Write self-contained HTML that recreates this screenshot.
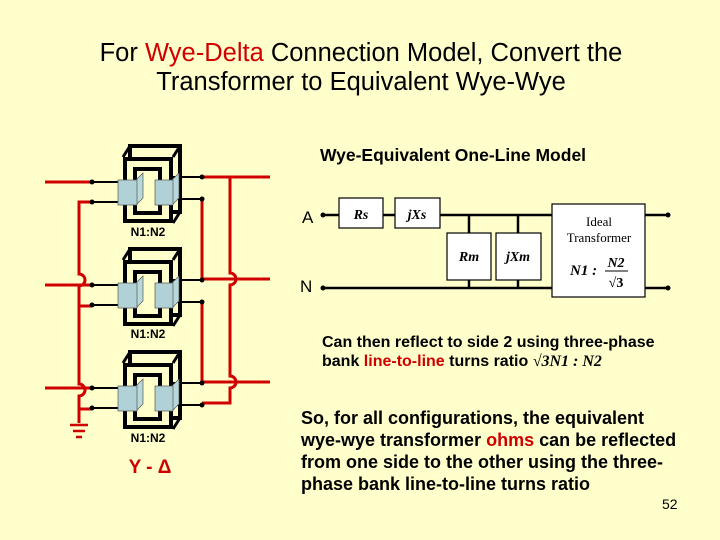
<!DOCTYPE html>
<html><head><meta charset="utf-8"><style>
html,body{margin:0;padding:0;background:#FFFFCC;}
svg{display:block;}
text{font-family:"Liberation Sans",sans-serif;}
</style></head><body>
<svg width="720" height="540" viewBox="0 0 720 540" xmlns="http://www.w3.org/2000/svg">
<rect width="720" height="540" fill="#FFFFCC"/>
<text x="361" y="61" font-size="25.5" text-anchor="middle">For <tspan fill="#D00000">Wye-Delta</tspan> Connection Model, Convert the</text>
<text x="361" y="90" font-size="25.5" text-anchor="middle">Transformer to Equivalent Wye-Wye</text>
<text x="453" y="161" font-size="17.5" font-weight="bold" text-anchor="middle">Wye-Equivalent One-Line Model</text>

<defs>
<g id="t">
  <rect x="130" y="0" width="50" height="66" fill="none" stroke="#000" stroke-width="4"/>
  <line x1="123" y1="11" x2="130" y2="0" stroke="#000" stroke-width="3"/>
  <line x1="173" y1="11" x2="180" y2="0" stroke="#000" stroke-width="3"/>
  <line x1="173" y1="77" x2="180" y2="66" stroke="#000" stroke-width="3"/>
  <rect x="125" y="13" width="46" height="62" fill="#FFFFCC" stroke="#000" stroke-width="4"/>
  <rect x="135" y="23" width="25" height="44" fill="none" stroke="#000" stroke-width="4"/>
  <line x1="92" y1="36" x2="120" y2="36" stroke="#000" stroke-width="2"/>
  <line x1="92" y1="56" x2="120" y2="56" stroke="#000" stroke-width="2"/>
  <line x1="172" y1="31" x2="202" y2="31" stroke="#000" stroke-width="2"/>
  <line x1="172" y1="53" x2="202" y2="53" stroke="#000" stroke-width="2"/>
  <polygon points="136,34 143,27 143,52 136,59" fill="#B8D8DA" stroke="#555" stroke-width="0.7"/>
  <rect x="118" y="34" width="19" height="25" fill="#B0D2D6" stroke="#555" stroke-width="0.7"/>
  <polygon points="172,34 179,27 179,52 172,59" fill="#B8D8DA" stroke="#555" stroke-width="0.7"/>
  <rect x="155" y="34" width="18" height="25" fill="#B0D2D6" stroke="#555" stroke-width="0.7"/>
  <circle cx="92" cy="36" r="2.5"/><circle cx="92" cy="56" r="2.5"/>
  <circle cx="202" cy="31" r="2.5"/><circle cx="202" cy="53" r="2.5"/>
</g>
</defs>
<g fill="none" stroke="#D00000" stroke-width="3">
  <path d="M45 182 H92"/>
  <path d="M92 202 H79 V274 a6 6 0 0 1 0 12 V384 a6 6 0 0 1 0 12 V423"/>
  <path d="M45 285 H92"/>
  <path d="M79 306 H92"/>
  <path d="M45 388 H92"/>
  <path d="M79 409 H92"/>
  <path d="M202 177 H270"/>
  <path d="M202 279 H270"/>
  <path d="M202 382 H270"/>
  <path d="M202 199 V279"/>
  <path d="M202 302 V382"/>
  <path d="M230 177 V273 a6 6 0 0 1 0 12 V376 a6 6 0 0 1 0 12 V403 H202"/>
</g>
<g stroke="#D00000" stroke-width="2.5">
  <line x1="70" y1="425" x2="88" y2="425"/>
  <line x1="73" y1="431" x2="85" y2="431"/>
  <line x1="76" y1="437" x2="82" y2="437"/>
</g>
<use href="#t" transform="translate(0,146)"/>
<use href="#t" transform="translate(0,249)"/>
<use href="#t" transform="translate(0,352)"/>
<text x="148" y="236" font-size="12" font-weight="bold" text-anchor="middle">N1:N2</text>
<text x="148" y="338" font-size="12" font-weight="bold" text-anchor="middle">N1:N2</text>
<text x="148" y="442" font-size="12" font-weight="bold" text-anchor="middle">N1:N2</text>
<text x="150" y="473" font-size="19" font-weight="bold" fill="#D00000" text-anchor="middle">Y - Δ</text>

<g stroke="#000" stroke-width="2.5" fill="none">
  <path d="M323 215 H552"/>
  <path d="M323 288 H552"/>
  <path d="M469 215 V288"/>
  <path d="M518 215 V288"/>
  <path d="M645 215 H668"/>
  <path d="M645 288 H668"/>
</g>
<g stroke="#000" stroke-width="1.2" fill="#FFFFFF">
  <rect x="339" y="198" width="44" height="30"/>
  <rect x="395" y="198" width="45" height="30"/>
  <rect x="447" y="233" width="44" height="47"/>
  <rect x="496" y="233" width="45" height="47"/>
  <rect x="552" y="204" width="93" height="93"/>
</g>
<circle cx="323" cy="215" r="2.5"/><circle cx="323" cy="288" r="2.5"/>
<circle cx="668" cy="215" r="2.5"/><circle cx="668" cy="288" r="2.5"/>
<text x="302" y="223" font-size="17">A</text>
<text x="300" y="292" font-size="17">N</text>
<g font-style="italic" font-weight="bold" font-size="14" text-anchor="middle">
  <text x="361" y="219" style="font-family:'Liberation Serif',serif">Rs</text>
  <text x="417" y="219" style="font-family:'Liberation Serif',serif">jXs</text>
  <text x="469" y="261" style="font-family:'Liberation Serif',serif">Rm</text>
  <text x="518" y="261" style="font-family:'Liberation Serif',serif">jXm</text>
</g>
<text x="599" y="226" font-size="13" text-anchor="middle" style="font-family:'Liberation Serif',serif">Ideal</text>
<text x="599" y="242" font-size="13" text-anchor="middle" style="font-family:'Liberation Serif',serif">Transformer</text>
<text x="570" y="275" font-size="15" font-weight="bold" font-style="italic" style="font-family:'Liberation Serif',serif">N1 :</text>
<text x="616" y="267" font-size="14" font-weight="bold" font-style="italic" text-anchor="middle" style="font-family:'Liberation Serif',serif">N2</text>
<line x1="605" y1="271" x2="628" y2="271" stroke="#000" stroke-width="1"/>
<text x="616" y="287" font-size="14" font-weight="bold" text-anchor="middle" style="font-family:'Liberation Serif',serif">√3</text>

<g font-size="16" font-weight="bold">
<text x="322" y="347">Can then reflect to side 2 using three-phase</text>
<text x="322" y="366">bank <tspan fill="#D00000">line-to-line</tspan> turns ratio <tspan style="font-family:'Liberation Serif',serif" font-style="italic">√3N1 : N2</tspan></text>
</g>
<g font-size="18" font-weight="bold">
<text x="301" y="424">So, for all configurations, the equivalent</text>
<text x="301" y="446">wye-wye transformer <tspan fill="#D00000">ohms</tspan> can be reflected</text>
<text x="301" y="468">from one side to the other using the three-</text>
<text x="301" y="490">phase bank line-to-line turns ratio</text>
</g>
<text x="662" y="509" font-size="14">52</text>
</svg>
</body></html>
